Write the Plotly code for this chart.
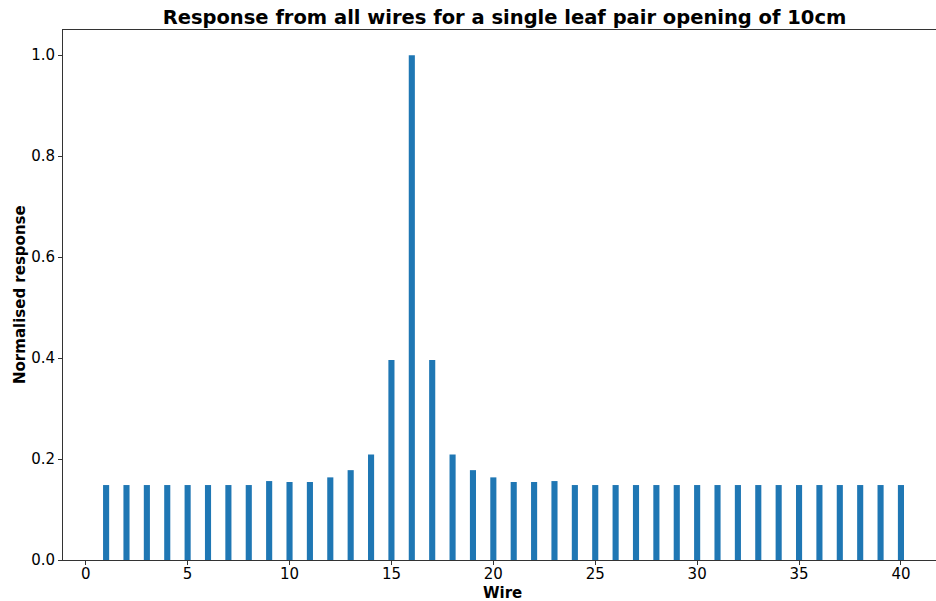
import plotly.graph_objects as go

wires = list(range(1, 41))
response = [0.1485, 0.1485, 0.1485, 0.1485, 0.1485, 0.1485, 0.1485, 0.1485,
            0.1564, 0.1545, 0.1545, 0.1637, 0.178, 0.209, 0.396, 1.0,
            0.396, 0.209, 0.178, 0.1637, 0.1545, 0.1545, 0.1564, 0.1485,
            0.1485, 0.1485, 0.1485, 0.1485, 0.1485, 0.1485, 0.1485, 0.1485,
            0.1485, 0.1485, 0.1485, 0.1485, 0.1485, 0.1485, 0.1485, 0.1485]
x_ticks = [0, 5, 10, 15, 20, 25, 30, 35, 40]
y_ticks = [0.0, 0.2, 0.4, 0.6, 0.8, 1.0]

fig = go.Figure(go.Bar(x=wires, y=response, width=0.3,
                       marker=dict(color="#1f77b4", line=dict(width=0))))

axis_common = dict(showgrid=False, zeroline=False, showline=True, linecolor="#333333",
                   linewidth=1, ticks="outside", ticklen=4, tickcolor="#333333",
                   tickfont=dict(family="DejaVu Sans", size=15, color="black"))

fig.update_layout(
    width=936, height=601,
    margin=dict(l=63, r=0, t=30, b=41),
    paper_bgcolor="white", plot_bgcolor="white",
    title=dict(text="<b>Response from all wires for a single leaf pair opening of 10cm</b>",
               x=0.539, xanchor="center", y=0.972, yanchor="middle",
               font=dict(family="DejaVu Sans", size=19.5, color="black")),
    xaxis=dict(range=[-1.115, 41.72], tickvals=x_ticks, ticktext=[str(v) for v in x_ticks],
               mirror=True, ticklabelstandoff=-4, **axis_common),
    yaxis=dict(range=[0, 1.05], tickvals=y_ticks, ticktext=[f"{v:.1f}" for v in y_ticks],
               **axis_common),
    annotations=[
        dict(text="<b>Wire</b>", xref="paper", yref="paper", x=0.503, y=0,
             xanchor="center", yanchor="middle", yshift=-33, showarrow=False,
             font=dict(family="DejaVu Sans", size=15, color="black")),
        dict(text="<b>Normalised response</b>", xref="paper", yref="paper", x=0, y=0.5,
             xanchor="center", yanchor="middle", xshift=-43, textangle=-90, showarrow=False,
             font=dict(family="DejaVu Sans", size=15, color="black")),
    ],
    showlegend=False,
)

fig.write_html("out.html")
